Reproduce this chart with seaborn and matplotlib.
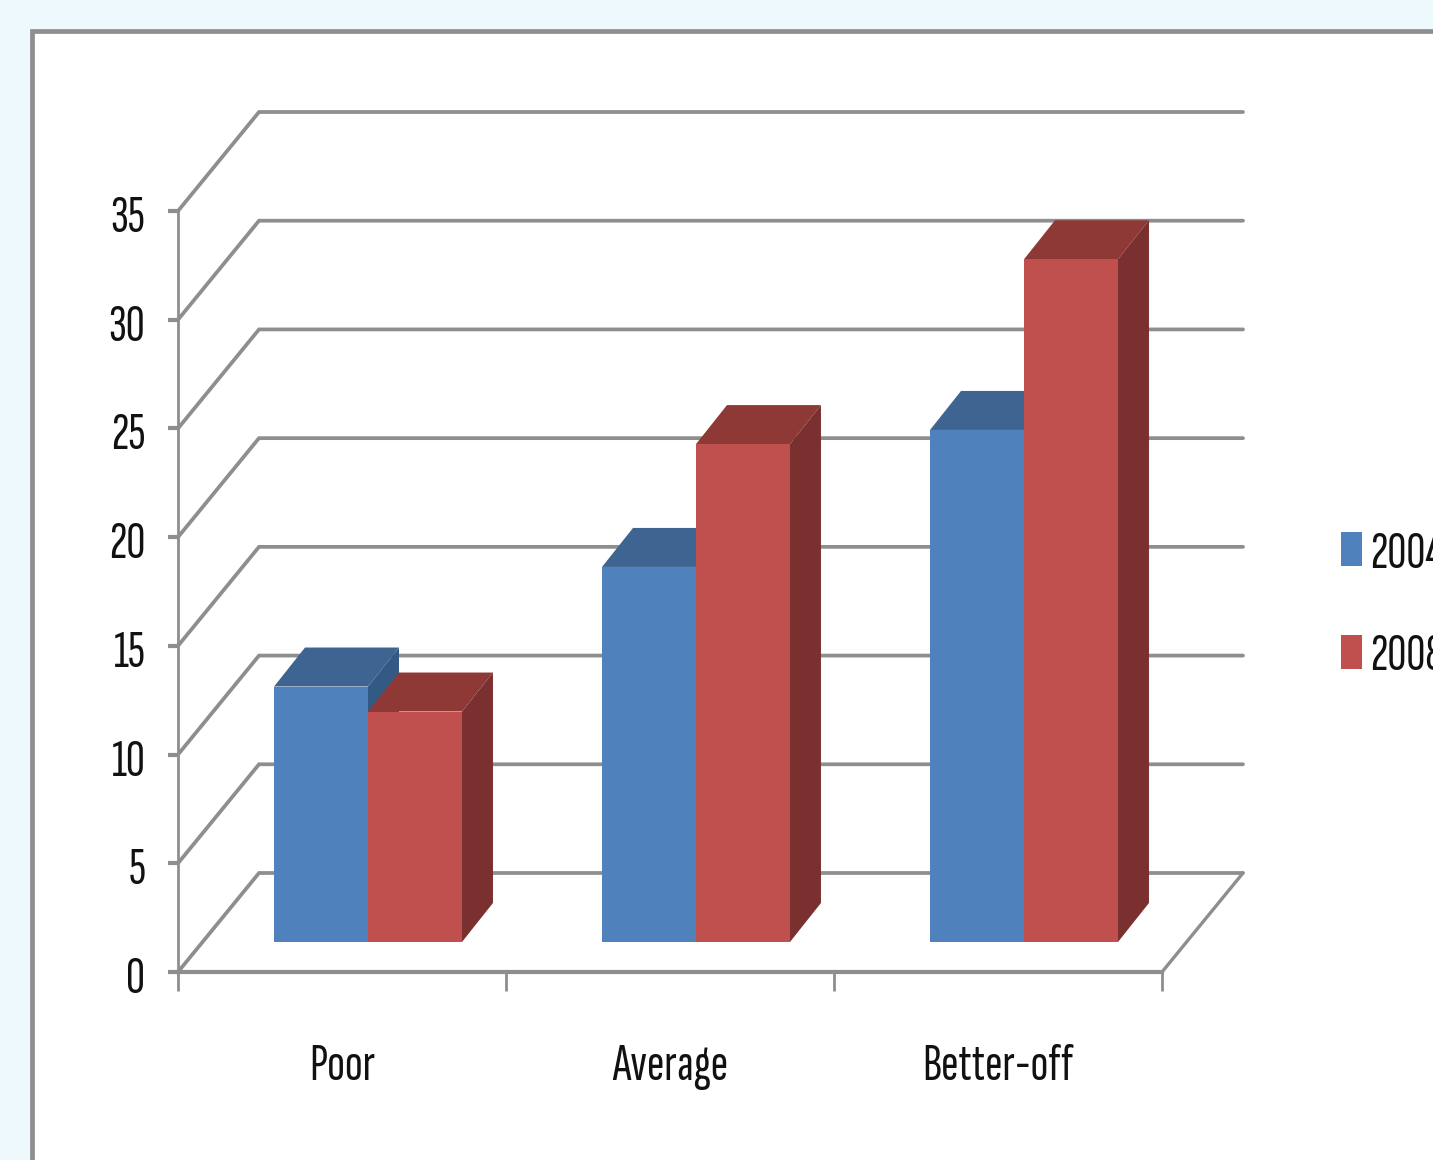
import matplotlib
matplotlib.use("Agg")
import matplotlib.pyplot as plt
from matplotlib import font_manager
from matplotlib.patches import Polygon, Rectangle
from matplotlib.transforms import ScaledTranslation
import pandas as pd
import seaborn as sns

categories = ["Poor", "Average", "Better-off"]
values_2004 = [11.75, 17.25, 23.55]
values_2008 = [10.6, 22.9, 31.4]
y_ticks = [0, 5, 10, 15, 20, 25, 30, 35]

W, H = 1433, 1160
BLUE, BLUE_TOP, BLUE_SIDE = "#4F81BD", "#3E6491", "#335A85"
RED, RED_TOP, RED_SIDE = "#C0504D", "#8F3936", "#7A302F"
GREY = "#8E8E8E"

sns.set_theme(style="white")
names = {f.name for f in font_manager.fontManager.ttflist}
family = next(n for n in ["Sofia Sans Extra Condensed", "Fira Sans Extra Condensed", "PT Sans Narrow", "Liberation Sans"]
              if n in names)
plt.rcParams["font.family"] = [family, "DejaVu Sans"]
FONT_SIZE = 38

df = pd.DataFrame({
    "group": categories * 2,
    "share": values_2004 + values_2008,
    "year": ["2004"] * 3 + ["2008"] * 3,
})


def px_axes(fig, left, top, right, bottom):
    return fig.add_axes([left / W, 1 - bottom / H, (right - left) / W, (bottom - top) / H])


fig = plt.figure(figsize=(W / 100, H / 100), dpi=100, facecolor="#EEF9FE")

# White chart panel, running off the right and lower edges
fig.add_artist(Rectangle((32 / W, -0.05), 1.1, 1.05 - 31 / H, transform=fig.transFigure,
                         facecolor="white", edgecolor=GREY, linewidth=3.4, zorder=-5))

# Front plane of the 3D box: carries the value axis and category axis
ax = px_axes(fig, 178, 211, 1162, 972)
ax.patch.set_visible(False)
ax.set_xlim(-0.5, 2.5)
ax.set_ylim(0, 35)
for side in ("top", "right"):
    ax.spines[side].set_visible(False)
for side in ("left", "bottom"):
    ax.spines[side].set_color(GREY)
    ax.spines[side].set_linewidth(2)
ax.spines["bottom"].set_linewidth(3)

ax.set_yticks(y_ticks, labels=[str(v) for v in y_ticks])
ax.tick_params(axis="y", left=True, length=7.5, width=3, color=GREY, pad=16, labelsize=FONT_SIZE, labelcolor="#111111")
nudge = ScaledTranslation(0, -3 / 100, fig.dpi_scale_trans)
for label in ax.get_yticklabels():
    label.set_transform(label.get_transform() + nudge)
ax.set_xticks([-0.5, 0.5, 1.5, 2.5], labels=[])
ax.tick_params(axis="x", which="major", bottom=True, length=14, width=2, color=GREY)
ax.set_xticks([0, 1, 2], labels=categories, minor=True)
ax.tick_params(axis="x", which="minor", bottom=True, length=0, pad=52, labelsize=FONT_SIZE, labelcolor="#111111")

# Back wall and floor of the box, offset from the front plane in data units
wall_dx = 81 / (984 / 3)
wall_dy = 99 / (761 / 35)
for v in y_ticks:
    ax.plot([-0.5, -0.5 + wall_dx, 2.5 + wall_dx], [v, v + wall_dy, v + wall_dy],
            color=GREY, lw=2.7, clip_on=False, solid_joinstyle="miter")
ax.plot([2.5, 2.5 + wall_dx], [0, wall_dy], color=GREY, lw=2.4, clip_on=False)

# Bars sit a little way back on the floor, so they get their own offset axes
bx = px_axes(fig, 204, 181, 1188, 942)
bx.patch.set_visible(False)
sns.barplot(data=df, x="group", y="share", hue="year", order=categories, hue_order=["2004", "2008"],
            palette=[BLUE, RED], width=0.573, gap=0, saturation=1, linewidth=0, ax=bx)
bx.set_xlim(-0.5, 2.5)
bx.set_ylim(0, 35)
bx.axis("off")

depth_dx = 31 / (984 / 3)
depth_dy = 39 / (761 / 35)
shades = [(BLUE_TOP, BLUE_SIDE), (RED_TOP, RED_SIDE)]
for i, (container, (top_c, side_c)) in enumerate(zip(bx.containers, shades)):
    base_z = 3 + 2 * i
    for bar in container:
        x0, x1 = bar.get_x(), bar.get_x() + bar.get_width()
        h = bar.get_height()
        bar.set_zorder(base_z + 1)
        bar.set_clip_on(False)
        top = [(x0, h), (x1, h), (x1 + depth_dx, h + depth_dy), (x0 + depth_dx, h + depth_dy)]
        side = [(x1, 0), (x1 + depth_dx, depth_dy), (x1 + depth_dx, h + depth_dy), (x1, h)]
        bx.add_patch(Polygon(top, closed=True, facecolor=top_c, edgecolor="none", zorder=base_z, clip_on=False))
        bx.add_patch(Polygon(side, closed=True, facecolor=side_c, edgecolor="none", zorder=base_z, clip_on=False))

# Legend sits at the panel's right edge and runs off the figure
handles, labels = bx.get_legend_handles_labels()
if bx.get_legend() is not None:
    bx.get_legend().remove()
leg = fig.legend(handles, labels, loc="center left", bbox_to_anchor=(1325 / W, 1 - 606 / H),
                 frameon=False, fontsize=FONT_SIZE, handlelength=0.4, handleheight=0.62,
                 handletextpad=0.16, labelspacing=1.07, labelcolor="#111111", borderpad=0.3, borderaxespad=0)

fig.savefig("out.png", dpi=100, facecolor=fig.get_facecolor())
